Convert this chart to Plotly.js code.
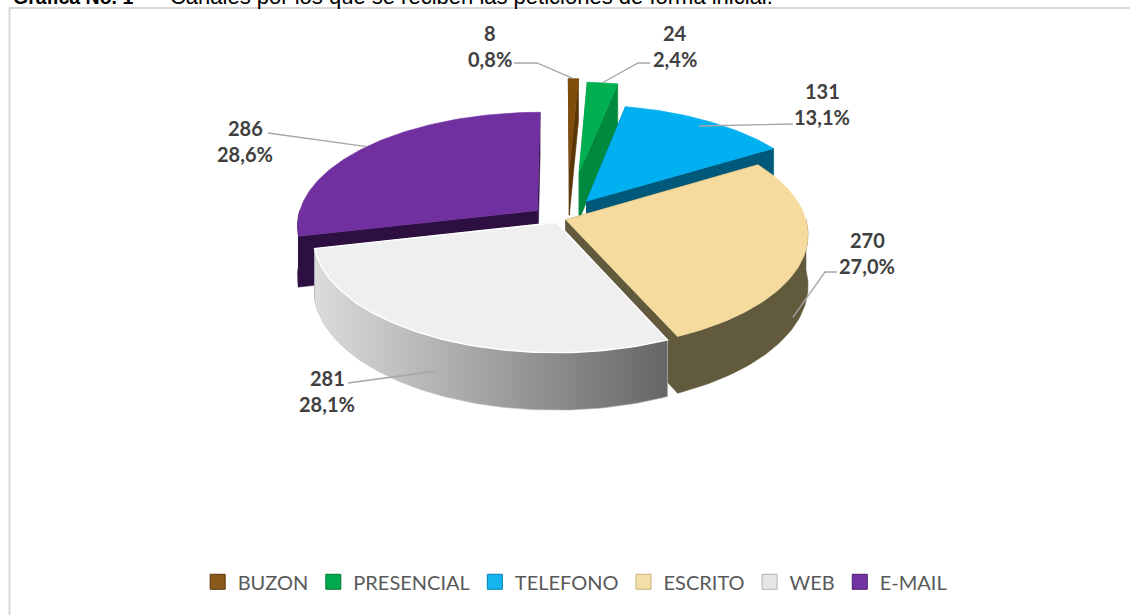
<!DOCTYPE html>
<html><head><meta charset="utf-8">
<script src="https://cdn.plot.ly/plotly-3.0.1.min.js"></script>
<style>html,body{margin:0;padding:0;background:#fff;} #chart{width:1130px;height:615px;}</style>
</head><body><div id="chart"></div>
<script>
// ---- data ----
const categories = ['BUZON', 'PRESENCIAL', 'TELEFONO', 'ESCRITO', 'WEB', 'E-MAIL'];
const values = [8, 24, 131, 270, 281, 286];

// ---- styles ----
const topColors = ['#7F4C0A', '#00B050', '#00B0F0', '#F5DC9E', '#EFEFEF', '#7030A0'];
const wallColors = ['#5A3506', '#008A3E', '#00587A', '#625A3D', '#9A9A9A', '#2D0F42'];
const legendColors = ['#8A5A1C', '#00A84E', '#14B4EE', '#F3DFA8', '#E6E6E6', '#7433A3'];
const legendLines = ['#5A3506', '#007A36', '#0080B0', '#C9B27A', '#B0B0B0', '#4A1E70'];
const explode = [115, 105, 47, 6, 8, 29];
const explodeShiftX = [7, 7, 0, 0, 0, 0];
const anchorR = [1, 1, 0.93, 1, 1, 1];
const anchorH = [0, 0, 0, 0.8, 0.6, 0];
const anchorDA = [0, 0, 0, 10, 0, 0];
const G = {cx: 560, cy: 219, R: 240, K: 0.47, p: 0.127, D: 50};
const labelPos = [[490, 33], [675, 33], [822, 91], [867, 240], [327, 378], [245, 128]];
const leaderPts = [[[514, 63], [537, 63]], [[650, 63], [638, 63]], [[793, 124]], [[837, 272], [825, 272]], [[348, 383]], [[268, 133]]];

const total = values.reduce((a, b) => a + b, 0);
function proj(X, Z, h) { const f = 1 / (1 + G.p * Z / G.R); return [G.cx + X * f, G.cy + (-Z * G.K + h) * f]; }
const slices = [];
let cum = 0;
values.forEach((v, i) => {
  const a0 = 2 * Math.PI * cum / total; cum += v;
  const a1 = 2 * Math.PI * cum / total; const m = (a0 + a1) / 2;
  slices.push({i, a0, a1, m, ex: explode[i] * Math.sin(m) + explodeShiftX[i], ez: explode[i] * Math.cos(m)});
});
function rim(s, t, h, r) { r = r || G.R; return proj(s.ex + r * Math.sin(t), s.ez + r * Math.cos(t), h); }
function arc(s, t0, t1, h) {
  const n = Math.max(2, Math.ceil((t1 - t0) / (Math.PI / 180)));
  const pts = [];
  for (let k = 0; k <= n; k++) pts.push(rim(s, t0 + (t1 - t0) * k / n, h));
  return pts;
}
function poly(pts, color, extra, lineColor, lw) {
  const x = pts.map(p => p[0]), y = pts.map(p => p[1]);
  x.push(x[0]); y.push(y[0]);
  return Object.assign({type: 'scatter', mode: 'lines', x, y, fill: 'toself', fillcolor: color,
    line: {width: lw === undefined ? 0.6 : lw, color: lineColor || color}, hoverinfo: 'skip', showlegend: false}, extra || {});
}
const traces = [];
const order = slices.slice().sort((a, b) => Math.cos(b.m) - Math.cos(a.m));
order.forEach(s => {
  const c0 = proj(s.ex, s.ez, 0), c1 = proj(s.ex, s.ez, G.D);
  [s.a0, s.a1].forEach(t => traces.push(poly([c0, rim(s, t, 0), rim(s, t, G.D), c1], wallColors[s.i])));
  const w0 = Math.max(s.a0, Math.PI / 2), w1 = Math.min(s.a1, 3 * Math.PI / 2);
  if (w1 > w0) {
    const top = arc(s, w0, w1, 0), bot = arc(s, w0, w1, G.D).reverse();
    const extra = (s.i === 4) ? {fillgradient: {type: 'horizontal', colorscale: [[0, '#DCDCDC'], [1, '#666666']]}} : {};
    traces.push(poly(top.concat(bot), wallColors[s.i], extra, s.i === 4 ? '#BBBBBB' : null));
  }
  traces.push(poly([c0].concat(arc(s, s.a0, s.a1, 0)), topColors[s.i], null, s.i === 4 ? '#FFFFFF' : null, s.i === 4 ? 1.5 : 0.6));
});

// leader lines
slices.forEach(s => {
  const a = rim(s, s.m + anchorDA[s.i] * Math.PI / 180, anchorH[s.i] * G.D, anchorR[s.i] * G.R);
  const pts = leaderPts[s.i].concat([a]);
  traces.push({type: 'scatter', mode: 'lines', x: pts.map(p => p[0]), y: pts.map(p => p[1]),
    line: {color: '#A6A6A6', width: 1.3}, hoverinfo: 'skip', showlegend: false});
});

// legend entries
categories.forEach((c, i) => traces.push({type: 'scatter', mode: 'markers', x: [null], y: [null], name: c,
  marker: {symbol: 'square', size: 15, color: legendColors[i], line: {color: legendLines[i], width: 1}},
  hoverinfo: 'skip', showlegend: true}));

const annotations = [];
slices.forEach(s => {
  const [lx, ly] = labelPos[s.i];
  const pct = (values[s.i] / total * 100).toFixed(1).replace('.', ',') + '%';
  const f = {family: 'Lato, sans-serif', size: 20, color: '#404040'};
  annotations.push({x: lx, y: ly, xref: 'x', yref: 'y', text: '<b>' + values[s.i] + '</b>', showarrow: false, font: f, xanchor: 'center', yanchor: 'middle'});
  annotations.push({x: lx, y: ly + 26, xref: 'x', yref: 'y', text: '<b>' + pct + '</b>', showarrow: false, font: f, xanchor: 'center', yanchor: 'middle'});
});
annotations.push({x: 12, y: 10, xref: 'x', yref: 'y', xanchor: 'left', yanchor: 'bottom', showarrow: false, borderpad: 0,
  text: '<span style="font-size:19.5px"><b>Gráfica No. 1</b></span>\u00A0\u00A0–\u00A0\u00A0Canales por los que se reciben las peticiones de forma inicial.',
  font: {family: 'Liberation Sans, Arial, sans-serif', size: 22, color: '#000000'}});

const layout = {
  width: 1130, height: 615, margin: {l: 0, r: 0, t: 0, b: 0},
  paper_bgcolor: '#FFFFFF', plot_bgcolor: '#FFFFFF',
  xaxis: {range: [0, 1130], visible: false, fixedrange: true},
  yaxis: {range: [615, 0], visible: false, fixedrange: true},
  showlegend: true,
  legend: {orientation: 'h', x: 0.509, xanchor: 'center', y: 0.054, yanchor: 'middle',
    font: {family: 'Lato, sans-serif', size: 20, color: '#595959'}, bgcolor: 'rgba(0,0,0,0)', itemclick: false, itemdoubleclick: false},
  shapes: [{type: 'rect', xref: 'x', yref: 'y', x0: 9.5, y0: 8, x1: 1140, y1: 630, line: {color: '#D9D9D9', width: 2}, layer: 'below'}],
  annotations
};
Plotly.newPlot('chart', traces, layout, {displayModeBar: false, staticPlot: true});
</script></body></html>
